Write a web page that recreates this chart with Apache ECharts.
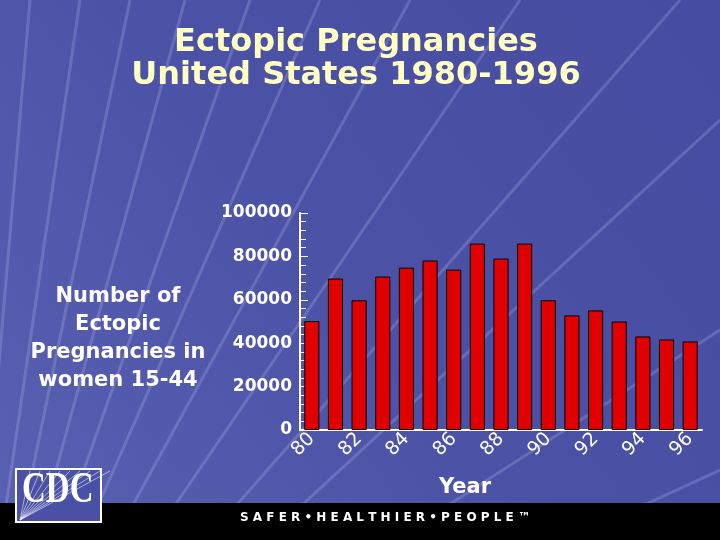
<!DOCTYPE html>
<html lang="en">
<head>
    <meta charset="utf-8">
    <title>Ectopic Pregnancies</title>
    <script src="https://cdn.jsdelivr.net/npm/echarts@6/dist/echarts.min.js"></script>
    <style>
        html, body { margin: 0; padding: 0; }
        #main { width: 720px; height: 540px; }
    </style>
</head>
<body>
    <div id="main"></div>
    <script>
        // data
        var years = ['1980', '1981', '1982', '1983', '1984', '1985', '1986', '1987', '1988',
            '1989', '1990', '1991', '1992', '1993', '1994', '1995', '1996'];
        var cases = [50200, 69800, 59800, 70700, 74800, 78100, 73900, 85900, 79000,
            85900, 59800, 52800, 55100, 50000, 43100, 41700, 40800];
        var yTicks = [0, 20000, 40000, 60000, 80000, 100000];

        var chart = echarts.init(document.getElementById('main'));

        // faint streaks in the background, fanning out from the lower left
        var streakEnds = [[30, 0], [80, 0], [130, 0], [185, 0], [250, 0], [320, 0], [410, 0],
            [520, 0], [680, 0], [720, 120], [720, 330], [720, 470]];
        var streaks = streakEnds.map(function (p) {
            return {
                type: 'line',
                silent: true,
                z: -9,
                shape: { x1: -40, y1: 820, x2: p[0], y2: p[1] },
                style: { stroke: 'rgba(200,205,255,0.22)', lineWidth: 3 }
            };
        });

        // little CDC mark bottom left
        var logoLines = [];
        for (var i = 0; i < 9; i++) {
            logoLines.push({
                type: 'line', silent: true, z: 2,
                shape: { x1: 20, y1: 520, x2: 30 + i * 10, y2: 471 },
                style: { stroke: 'rgba(255,255,255,0.55)', lineWidth: 1 }
            });
        }

        var option = {
            backgroundColor: new echarts.graphic.LinearGradient(0, 1, 1, 0, [
                { offset: 0, color: '#5a60b2' },
                { offset: 0.5, color: '#4b51a4' },
                { offset: 1, color: '#474ca2' }
            ]),
            animation: false,
            title: {
                text: 'Ectopic Pregnancies\nUnited States 1980-1996',
                left: 351,
                textAlign: 'center',
                top: 21,
                textStyle: {
                    color: '#ffffc4',
                    fontFamily: 'DejaVu Sans',
                    fontWeight: 'bold',
                    fontSize: 32,
                    lineHeight: 33
                }
            },
            grid: { left: 300, right: 18, top: 213, bottom: 110 },
            xAxis: {
                type: 'category',
                data: years,
                axisLine: { lineStyle: { color: '#ffffff', width: 2 } },
                axisTick: { inside: true, length: 6, interval: 0, lineStyle: { color: '#ffffff' } },
                axisLabel: {
                    interval: 1,
                    rotate: 45,
                    margin: 6,
                    color: '#ffffff',
                    fontFamily: 'DejaVu Sans',
                    fontSize: 19,
                    formatter: function (v) { return v.slice(2); }
                },
                splitLine: { show: false }
            },
            yAxis: {
                type: 'value',
                min: yTicks[0],
                max: yTicks[yTicks.length - 1],
                interval: yTicks[1] - yTicks[0],
                axisLine: { show: true, lineStyle: { color: '#ffffff', width: 2 } },
                axisTick: { show: true, inside: true, length: 8, lineStyle: { color: '#ffffff' } },
                minorTick: { show: true, splitNumber: 5, length: 6, lineStyle: { color: '#ffffff' } },
                axisLabel: {
                    color: '#ffffff',
                    fontFamily: 'DejaVu Sans',
                    fontWeight: 'bold',
                    fontSize: 17,
                    margin: 8,
                    formatter: function (v) { return String(v); }
                },
                splitLine: { show: false }
            },
            graphic: streaks.concat([
                {
                    type: 'text', x: 118, y: 283, silent: true,
                    style: {
                        text: 'Number of\nEctopic\nPregnancies in\nwomen 15-44',
                        fill: '#ffffff',
                        font: 'bold 21px "DejaVu Sans"',
                        lineHeight: 28,
                        align: 'center'
                    }
                },
                {
                    type: 'text', x: 465, y: 477, silent: true,
                    style: { text: 'Year', fill: '#ffffff', font: 'bold 21px "DejaVu Sans"', align: 'center' }
                },
                {
                    type: 'rect', silent: true, z: 1,
                    shape: { x: 0, y: 503, width: 720, height: 37 },
                    style: { fill: '#000000' }
                },
                {
                    type: 'text', x: 240, y: 512, silent: true, z: 2,
                    style: {
                        text: 'S A F E R • H E A L T H I E R • P E O P L E ™',
                        fill: '#ffffff',
                        font: 'bold 12px "DejaVu Sans"'
                    }
                },
                {
                    type: 'rect', silent: true, z: 1,
                    shape: { x: 16, y: 469, width: 85, height: 53 },
                    style: { fill: '#4a50a6', stroke: '#ffffff', lineWidth: 2 }
                }
            ]).concat(logoLines).concat([
                {
                    type: 'text', x: 22, y: 469, scaleX: 0.75, silent: true, z: 3,
                    style: { text: 'CDC', fill: '#ffffff', font: 'bold 44px "Liberation Serif"' }
                }
            ]),
            series: [
                {
                    type: 'bar',
                    data: cases,
                    barCategoryGap: '36%',
                    itemStyle: { color: '#e00000', borderColor: '#000000', borderWidth: 1 }
                }
            ]
        };

        chart.setOption(option);
    </script>
</body>
</html>
